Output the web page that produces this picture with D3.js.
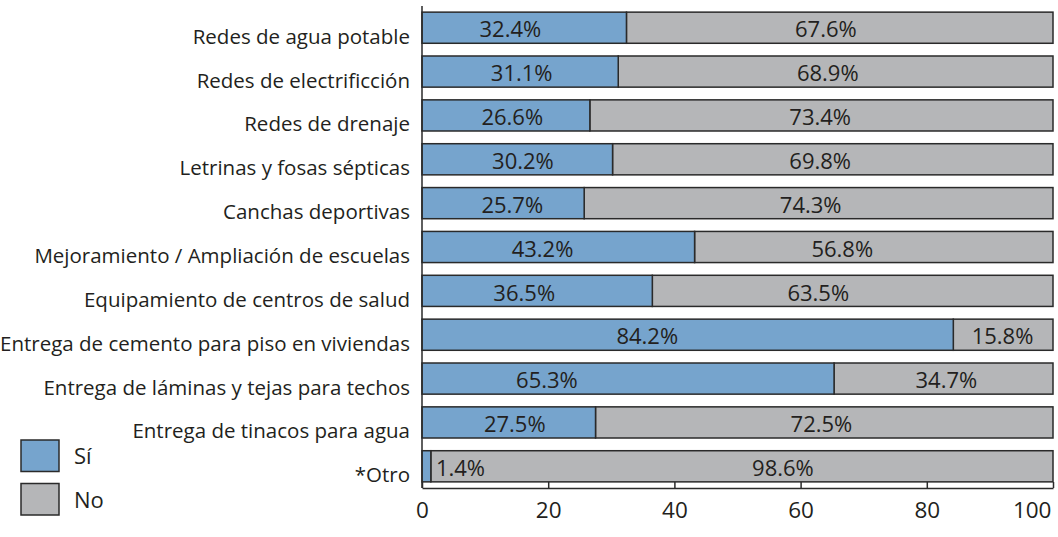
<!DOCTYPE html>
<html>
<head>
<meta charset="utf-8">
<script src="https://cdn.jsdelivr.net/npm/d3@7"></script>
<style>
  html, body { margin: 0; padding: 0; background: #fff; }
  svg { display: block; }
  text { font-family: "Open Sans", "Noto Sans", sans-serif; fill: #231f20; font-weight: 400; }
</style>
</head>
<body>
<svg id="chart" width="1058" height="537"></svg>
<script>
// ---- data ----
const categories = [
  "Redes de agua potable",
  "Redes de electrificción",
  "Redes de drenaje",
  "Letrinas y fosas sépticas",
  "Canchas deportivas",
  "Mejoramiento / Ampliación de escuelas",
  "Equipamiento de centros de salud",
  "Entrega de cemento para piso en viviendas",
  "Entrega de láminas y tejas para techos",
  "Entrega de tinacos para agua",
  "*Otro"
];
const siValues = [32.4, 31.1, 26.6, 30.2, 25.7, 43.2, 36.5, 84.2, 65.3, 27.5, 1.4];
const noValues = [67.6, 68.9, 73.4, 69.8, 74.3, 56.8, 63.5, 15.8, 34.7, 72.5, 98.6];
// where each value label sits along the axis (in % units)
const siLabelAt = [14.0, 15.8, 14.3, 16.0, 14.3, 19.1, 16.2, 35.7, 19.8, 14.7, 6.1];
const noLabelAt = [64.0, 64.3, 63.1, 63.1, 61.6, 66.6, 62.8, 92.0, 83.1, 63.3, 57.2];
const xTicks = [0, 20, 40, 60, 80, 100];
const seriesNames = ["Sí", "No"];

// ---- style ----
const colSi = "#76a4cd";
const colNo = "#b5b6b8";
const stroke = "#2a2a2a";

const svg = d3.select("#chart");
const x = d3.scaleLinear().domain([0, 100]).range([422, 1053]);
const y = d3.scaleBand().domain(categories).range([6, 488])
  .paddingInner(0.29).paddingOuter(0.14);

const rows = categories.map((c, i) => ({ c, si: siValues[i], no: noValues[i], sl: siLabelAt[i], nl: noLabelAt[i] }));

// bars
const g = svg.append("g");
g.selectAll("rect.no").data(rows).join("rect")
  .attr("class", "no")
  .attr("x", d => x(d.si)).attr("y", d => y(d.c))
  .attr("width", d => x(d.si + d.no) - x(d.si)).attr("height", y.bandwidth())
  .attr("fill", colNo).attr("stroke", stroke).attr("stroke-width", 1.5);
g.selectAll("rect.si").data(rows).join("rect")
  .attr("class", "si")
  .attr("x", x(0)).attr("y", d => y(d.c))
  .attr("width", d => x(d.si) - x(0)).attr("height", y.bandwidth())
  .attr("fill", colSi).attr("stroke", stroke).attr("stroke-width", 1.5);

// value labels
const fs = 22;
g.selectAll("text.sil").data(rows).join("text")
  .attr("x", d => x(d.sl)).attr("y", d => y(d.c) + y.bandwidth() / 2 + 2)
  .attr("dy", "0.35em").attr("text-anchor", "middle").attr("font-size", fs)
  .text(d => d.si.toFixed(1) + "%");
g.selectAll("text.nol").data(rows).join("text")
  .attr("x", d => x(d.nl)).attr("y", d => y(d.c) + y.bandwidth() / 2 + 2)
  .attr("dy", "0.35em").attr("text-anchor", "middle").attr("font-size", fs)
  .text(d => d.no.toFixed(1) + "%");

// category labels (sit slightly below bar centre)
svg.selectAll("text.cat").data(categories).join("text")
  .attr("x", 410).attr("y", d => y(d) + y.bandwidth() / 2 + 16)
  .attr("text-anchor", "end").attr("font-size", 20.5)
  .text(d => d);

// axes
svg.append("line").attr("x1", x(0)).attr("x2", x(0)).attr("y1", 6).attr("y2", 488)
  .attr("stroke", stroke).attr("stroke-width", 1.5);
const xAxis = d3.axisBottom(x).tickValues(xTicks).tickSizeInner(-6).tickSizeOuter(0).tickPadding(14);
const ax = svg.append("g").attr("transform", "translate(0,488)").call(xAxis);
ax.select(".domain").attr("stroke", stroke).attr("stroke-width", 1.5);
ax.selectAll(".tick line").attr("stroke", stroke).attr("stroke-width", 1.5);
ax.selectAll(".tick text").attr("font-size", 22.5).attr("font-family", "Open Sans, Noto Sans, sans-serif")
  .attr("fill", "#231f20");
ax.selectAll(".tick text").filter(d => d === 100).attr("text-anchor", "end").attr("dx", -2);

// legend
const leg = svg.append("g");
[colSi, colNo].forEach((c, i) => {
  leg.append("rect").attr("x", 21).attr("y", 440 + i * 43.5).attr("width", 38).attr("height", 31.5)
    .attr("fill", c).attr("stroke", stroke).attr("stroke-width", 1.5);
  leg.append("text").attr("x", 74).attr("y", 440 + i * 43.5 + 24).attr("font-size", 22)
    .text(seriesNames[i]);
});
</script>
</body>
</html>
